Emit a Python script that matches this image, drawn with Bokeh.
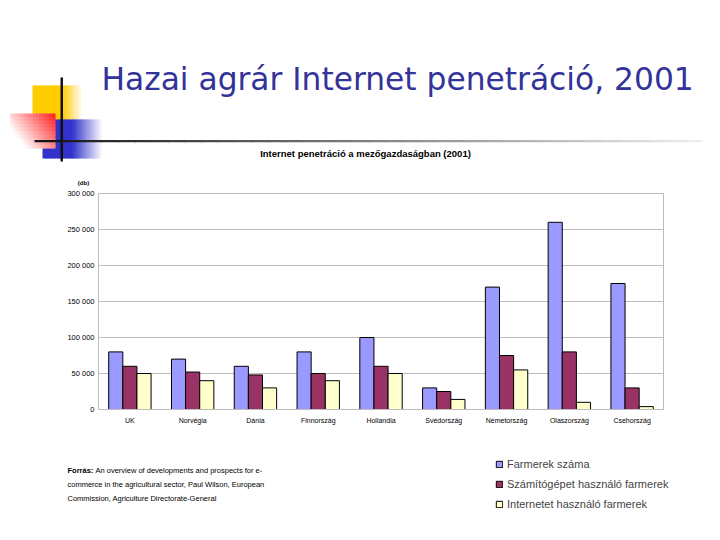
from bokeh.plotting import figure
from bokeh.layouts import column
from bokeh.models import (FixedTicker, Label, Legend, LegendItem, ColumnDataSource,
                          FactorRange, Range1d)
from bokeh.transform import dodge
from bokeh.embed import file_html
from bokeh.resources import INLINE

# ---------------- data ----------------
countries = ["UK", "Norvégia", "Dánia", "Finnország", "Hollandia",
             "Svédország", "Németország", "Olaszország", "Csehország"]
farmers = [80000, 70000, 60000, 80000, 100000, 30000, 170000, 260000, 175000]
computer_users = [60000, 52000, 48000, 50000, 60000, 25000, 75000, 80000, 30000]
internet_users = [50000, 40000, 30000, 40000, 50000, 14000, 55000, 10000, 4000]
series_names = ["Farmerek száma", "Számítógépet használó farmerek",
                "Internetet használó farmerek"]
y_ticks = [0, 50000, 100000, 150000, 200000, 250000, 300000]
y_tick_labels = ["0", "50 000", "100 000", "150 000", "200 000", "250 000", "300 000"]

main_title = "Hazai agrár Internet penetráció, 2001"
chart_title = "Internet penetráció a mezőgazdaságban (2001)"
unit_label = "(db)"
source_bold = "Forrás:"
source_lines = ["An overview of developments and prospects for e-",
                "commerce in the agricultural sector, Paul Wilson, European",
                "Commission, Agriculture Directorate-General"]

# ---------------- layout constants (page pixels) ----------------
W = 704
HEAD_H = 188          # header band: 0..188
CHART_H = 242         # chart band: 188..430
FOOT_H = 94           # footer band: 430..524
FRAME_L, FRAME_R, FRAME_T, FRAME_B = 98, 663, 193, 409

FONT = "Liberation Sans"
GRID = "#bdbdbd"


def canvas_fig(y0, y1):
    f = figure(width=W, height=y1 - y0, x_range=Range1d(0, W), y_range=Range1d(y1, y0),
               output_backend="svg", toolbar_location=None,
               x_axis_type=None, y_axis_type=None,
               min_border=0, min_border_left=0, min_border_right=0,
               min_border_top=0, min_border_bottom=0)
    f.frame_align = False
    f.grid.visible = False
    f.outline_line_color = None
    f.background_fill_color = "white"
    f.border_fill_color = "white"
    return f


def mix(c1, c2, t):
    t = max(0.0, min(1.0, t))
    a = [int(c1[i:i + 2], 16) for i in (1, 3, 5)]
    b = [int(c2[i:i + 2], 16) for i in (1, 3, 5)]
    return "#%02x%02x%02x" % tuple(round(a[j] + (b[j] - a[j]) * t) for j in range(3))


def grad_box(f, x0, y0, x1, y1, color_fn, nx=16, ny=1):
    """Box filled with a piecewise colour field color_fn(u, v), u,v in [0,1]."""
    sx = (x1 - x0) / nx
    sy = (y1 - y0) / ny
    L, R, T, B, C = [], [], [], [], []
    for j in range(ny):
        for i in range(nx):
            L.append(x0 + i * sx)
            R.append(min(x1, x0 + (i + 1) * sx + 1.2))
            T.append(y0 + j * sy)
            B.append(min(y1, y0 + (j + 1) * sy + 1.2))
            C.append(color_fn((i + 0.5) / nx, (j + 0.5) / ny))
    f.quad(left=L, right=R, top=T, bottom=B, fill_color=C, line_color=None)


def label(f, X, Y, text, size, font=FONT, style="normal", color="black", align="left"):
    # Y is the desired baseline; compensate the renderer's baseline shift
    f.add_layout(Label(x=X, y=Y - 0.41 * size, text=text, text_font=font,
                       text_font_size="%gpx" % size, text_font_style=style,
                       text_color=color, text_align=align, text_baseline="alphabetic"))


# ---------------- header ----------------
head = canvas_fig(0, HEAD_H)
grad_box(head, 32, 85, 81, 125,
         lambda u, v: mix("#FFCC00", "#FFFFFF", (u - 0.6) / 0.4 * 0.95), nx=20)
grad_box(head, 42, 119, 101, 158,
         lambda u, v: mix("#3333CC", "#FFFFFF", (u - 0.5) / 0.5 * 0.97), nx=24)
grad_box(head, 10, 113, 55, 148,
         lambda u, v: mix("#FF1010", "#FFFFFF", 0.05 + 0.75 * (1 - u) + 0.45 * v),
         nx=14, ny=10)
head.quad(left=[60], right=[62.5], top=[77], bottom=[161], fill_color="#111111", line_color=None)
grad_box(head, 34, 139.5, 702, 141.8,
         lambda u, v: mix("#111111", "#F0F0F0", u), nx=40)
label(head, 101, 91, main_title, 31.3, font="DejaVu Sans", color="#333399")
label(head, 365, 157, chart_title, 9.5, style="bold", align="center")
label(head, 83, 185, unit_label, 6, style="bold", align="center")

# ---------------- chart ----------------
src = ColumnDataSource(dict(c=countries, f=farmers, s=computer_users, i=internet_users))
p = figure(width=W, height=CHART_H, x_range=FactorRange(*countries), y_range=(0, 300000),
           output_backend="svg", toolbar_location=None,
           min_border_left=FRAME_L, min_border_right=W - FRAME_R,
           min_border_top=FRAME_T - HEAD_H, min_border_bottom=HEAD_H + CHART_H - FRAME_B)
p.frame_align = False
p.background_fill_color = "white"
p.border_fill_color = "white"
p.outline_line_color = GRID

bw = 0.225
cols = ["#9999FF", "#993366", "#FFFFCC"]
keys = ["f", "s", "i"]
offs = [-bw, 0, bw]
for k, o, c in zip(keys, offs, cols):
    p.vbar(x=dodge("c", o, range=p.x_range), top=k, width=bw, source=src,
           fill_color=c, line_color="black", line_width=1)

p.xgrid.grid_line_color = None
p.ygrid.grid_line_color = GRID
p.ygrid.ticker = FixedTicker(ticks=y_ticks)
p.yaxis.ticker = FixedTicker(ticks=y_ticks)
p.yaxis.major_label_overrides = {t: l for t, l in zip(y_ticks, y_tick_labels)}
for ax in (p.xaxis[0], p.yaxis[0]):
    ax.axis_line_color = GRID
    ax.major_label_text_font = FONT
    ax.major_label_text_color = "black"
    ax.minor_tick_line_color = None
    ax.major_tick_line_color = None
    ax.major_tick_out = 0
    ax.major_tick_in = 0
p.yaxis.major_label_text_font_size = "7.5px"
p.xaxis.major_label_text_font_size = "7px"
p.yaxis.major_label_standoff = 4
p.xaxis.major_label_standoff = 7

# ---------------- footer ----------------
foot = canvas_fig(HEAD_H + CHART_H, HEAD_H + CHART_H + FOOT_H)
label(foot, 67, 473, source_bold, 7.5, style="bold")
label(foot, 95, 473, source_lines[0], 7.5)
label(foot, 67, 487, source_lines[1], 7.5)
label(foot, 67, 501, source_lines[2], 7.5)

# legend swatches come from off-canvas proxy renderers in the footer
proxy = ColumnDataSource(dict(l=[-50], r=[-40], t=[-50], b=[-40]))
leg_r = [foot.quad(left="l", right="r", top="t", bottom="b", source=proxy,
                   fill_color=c, line_color="black", line_width=1)
         for c in cols]
legend = Legend(items=[LegendItem(label=n, renderers=[r]) for n, r in zip(series_names, leg_r)],
                location=(495, HEAD_H + CHART_H + FOOT_H - 511), orientation="vertical",
                glyph_width=8, glyph_height=8, label_height=14, spacing=6,
                label_standoff=4, padding=0, margin=0, border_line_color=None,
                background_fill_alpha=0, label_text_font=FONT,
                label_text_font_size="11px")
foot.add_layout(legend)

layout = column(head, p, foot, spacing=0)
open("out.html", "w").write(file_html(layout, INLINE))
